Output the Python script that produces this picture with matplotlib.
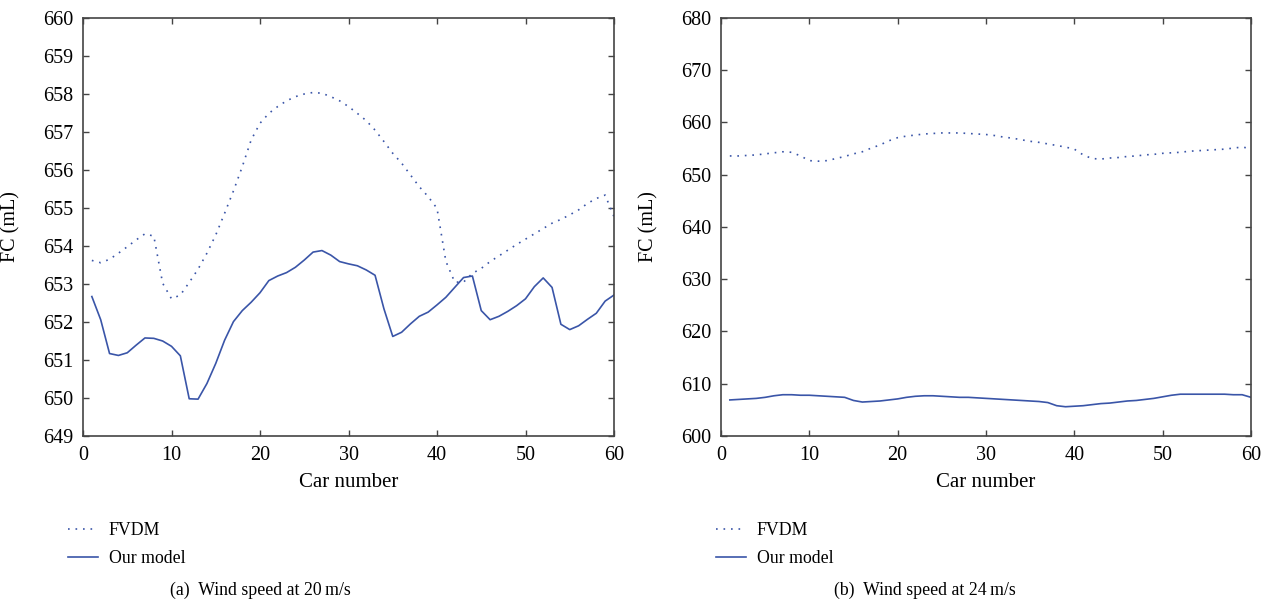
import numpy as np
import matplotlib
matplotlib.use("Agg")
import matplotlib.pyplot as plt
from matplotlib.lines import Line2D

# Car index along the platoon
cars = np.arange(1, 61)

# (a) wind speed 20 m/s
fvdm_20 = [
    653.62, 653.56, 653.65, 653.81, 653.98, 654.16, 654.32, 654.26, 653.02, 652.61,
    652.71, 653.04, 653.39, 653.81, 654.29, 654.86, 655.45, 656.09, 656.79, 657.23,
    657.49, 657.67, 657.82, 657.93, 658.00, 658.04, 658.02, 657.93, 657.82, 657.67,
    657.49, 657.30, 657.05, 656.75, 656.44, 656.18, 655.87, 655.56, 655.30, 654.99,
    653.60, 653.05, 653.05, 653.28, 653.41, 653.59, 653.74, 653.89, 654.04, 654.18,
    654.32, 654.46, 654.60, 654.70, 654.82, 654.95, 655.12, 655.25, 655.34, 654.77,
]
ours_20 = [
    652.67, 652.06, 651.17, 651.12, 651.19, 651.39, 651.58, 651.57, 651.50, 651.36,
    651.11, 649.98, 649.97, 650.38, 650.91, 651.52, 652.01, 652.30, 652.52, 652.77,
    653.09, 653.21, 653.30, 653.44, 653.63, 653.84, 653.88, 653.76, 653.59, 653.53,
    653.48, 653.37, 653.23, 652.35, 651.62, 651.73, 651.95, 652.15, 652.26, 652.45,
    652.65, 652.91, 653.17, 653.21, 652.30, 652.06, 652.15, 652.28, 652.43, 652.61,
    652.93, 653.16, 652.91, 651.94, 651.80, 651.90, 652.07, 652.23, 652.55, 652.71,
]

# (b) wind speed 24 m/s
fvdm_24 = [
    653.6, 653.6, 653.7, 653.8, 654.0, 654.2, 654.4, 654.3, 653.6, 652.7,
    652.6, 652.7, 653.1, 653.5, 654.0, 654.4, 655.1, 655.7, 656.5, 657.1,
    657.4, 657.6, 657.8, 657.9, 658.0, 658.0, 658.0, 657.9, 657.8, 657.7,
    657.5, 657.2, 657.0, 656.7, 656.4, 656.2, 655.9, 655.6, 655.3, 654.9,
    653.8, 653.1, 653.0, 653.2, 653.3, 653.5, 653.6, 653.8, 653.9, 654.1,
    654.2, 654.3, 654.5, 654.6, 654.7, 654.8, 654.9, 655.1, 655.3, 655.0,
]
ours_24 = [
    606.9, 607.0, 607.1, 607.2, 607.4, 607.7, 607.9, 607.9, 607.8, 607.8,
    607.7, 607.6, 607.5, 607.4, 606.8, 606.5, 606.6, 606.7, 606.9, 607.1,
    607.4, 607.6, 607.7, 607.7, 607.6, 607.5, 607.4, 607.4, 607.3, 607.2,
    607.1, 607.0, 606.9, 606.8, 606.7, 606.6, 606.4, 605.8, 605.6, 605.7,
    605.8, 606.0, 606.2, 606.3, 606.5, 606.7, 606.8, 607.0, 607.2, 607.5,
    607.8, 608.0, 608.0, 608.0, 608.0, 608.0, 608.0, 607.9, 607.9, 607.4,
]

captions = ["(a)  Wind speed at 20\u2009m/s", "(b)  Wind speed at 24\u2009m/s"]
ylims = [(649, 660), (600, 680)]
ysteps = [1, 10]

LINE = "#3a55a8"
AX = "#444444"
DOTS = (0, (1, 3.5))
W, H = 1268, 605

plt.rcParams["font.family"] = ["Liberation Serif", "DejaVu Serif"]
plt.rcParams["font.size"] = 14

fig = plt.figure(figsize=(W / 100, H / 100), dpi=100)


def px_rect(x0, x1, y0, y1):
    return [x0 / W, 1 - y1 / H, (x1 - x0) / W, (y1 - y0) / H]


rects = [px_rect(83, 614, 18, 436), px_rect(721, 1251, 18, 436)]
ylabel_x = [20, 658]
legend_x = [68, 716]
caption_x = [260, 925]

panels = [(fvdm_20, ours_20), (fvdm_24, ours_24)]
for i, (fvdm, ours) in enumerate(panels):
    ax = fig.add_axes(rects[i])
    ax.plot(cars, fvdm, ls=DOTS, color=LINE, lw=1.2)
    ax.plot(cars, ours, "-", color=LINE, lw=1.2)
    ax.set_xlim(0, 60)
    ax.set_ylim(*ylims[i])
    ax.set_xticks(np.arange(0, 61, 10))
    ax.set_yticks(np.arange(ylims[i][0], ylims[i][1] + 0.1, ysteps[i]))
    ax.tick_params(direction="in", length=4, width=1, color=AX,
                   top=True, right=True, pad=7, labelsize=14.5)
    for sp in ax.spines.values():
        sp.set_color(AX)
        sp.set_linewidth(1.2)
    ax.set_xlabel("Car number", fontsize=15, labelpad=6)
    ax.yaxis.set_label_coords((ylabel_x[i] - rects[i][0] * W) / (rects[i][2] * W), 0.5)
    ax.set_ylabel("FC (mL)", fontsize=14.5)

    handles = [Line2D([], [], ls=DOTS, color=LINE, lw=1.2),
               Line2D([], [], ls="-", color=LINE, lw=1.2)]
    fig.legend(handles, ["FVDM", "Our model"], loc="upper left",
               bbox_to_anchor=(legend_x[i] / W, 1 - 522 / H),
               frameon=False, fontsize=12.8, handlelength=1.7,
               handletextpad=0.6, labelspacing=0.62, borderpad=0,
               borderaxespad=0)
    fig.text(caption_x[i] / W, 1 - 590 / H, captions[i],
             ha="center", va="center", fontsize=12.8)

fig.savefig("out.png", dpi=100)
